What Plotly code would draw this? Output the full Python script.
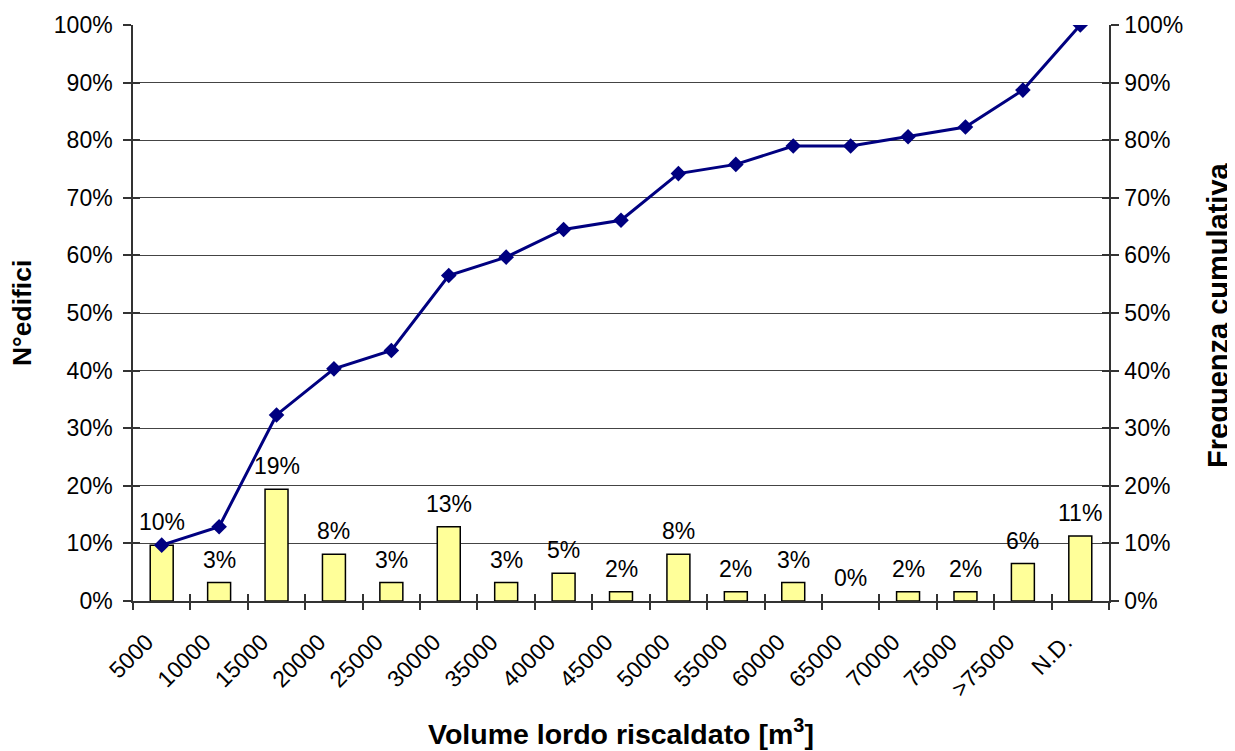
import plotly.graph_objects as go

categories = ["5000", "10000", "15000", "20000", "25000", "30000", "35000", "40000",
              "45000", "50000", "55000", "60000", "65000", "70000", "75000", ">75000", "N.D."]
share_pct = [9.7, 3.2, 19.4, 8.1, 3.2, 12.9, 3.2, 4.8, 1.6, 8.1, 1.6, 3.2, 0.0, 1.6, 1.6, 6.5, 11.3]
cumulative_pct = [9.7, 12.9, 32.3, 40.3, 43.5, 56.5, 59.7, 64.5, 66.1, 74.2, 75.8, 79.0, 79.0,
                  80.6, 82.3, 88.7, 100.0]
bar_labels = ["10%", "3%", "19%", "8%", "3%", "13%", "3%", "5%", "2%", "8%", "2%", "3%", "0%",
              "2%", "2%", "6%", "11%"]
y_ticks = [0, 0.1, 0.2, 0.3, 0.4, 0.5, 0.6, 0.7, 0.8, 0.9, 1.0]

share = [v / 100 for v in share_pct]
cumul = [v / 100 for v in cumulative_pct]

FONT = "Liberation Sans, Arial, sans-serif"
TXT = 23
AX = "#333"
N = len(categories)
RANGE = [-0.5, N - 0.5]
LABEL_SHIFT = 0.26  # tick labels sit slightly left of the category centre

fig = go.Figure()
fig.add_trace(go.Bar(
    x=categories, y=share,
    marker=dict(color="#FFFF99",
                line=dict(color="black", width=[1.5 if v > 0 else 0 for v in share])),
    width=0.4, xaxis="x", yaxis="y", showlegend=False, hoverinfo="skip"))
fig.add_trace(go.Scatter(
    x=categories, y=cumul, mode="lines+markers", xaxis="x", yaxis="y2",
    line=dict(color="#000080", width=3),
    marker=dict(symbol="diamond", size=12, color="#000080"), showlegend=False))

# invisible traces to activate the overlay axes
fig.add_trace(go.Scatter(x=categories, y=cumul, xaxis="x2", yaxis="y3", mode="none",
                         showlegend=False, hoverinfo="skip"))
fig.add_trace(go.Scatter(x=categories, y=cumul, xaxis="x2", yaxis="y4", mode="none",
                         showlegend=False, hoverinfo="skip"))
fig.add_trace(go.Scatter(x=categories, y=cumul, xaxis="x3", yaxis="y3", mode="none",
                         showlegend=False, hoverinfo="skip"))

for i, (v, t) in enumerate(zip(share, bar_labels)):
    fig.add_annotation(x=i, y=v, xref="x", yref="y", text=t, showarrow=False,
                       yanchor="bottom", yshift=8, font=dict(family=FONT, size=TXT, color="black"))

common_y = dict(range=[0, 1], tickvals=y_ticks, tickformat=".0%", showline=True,
                linecolor=AX, linewidth=1.5, tickcolor=AX, ticklen=8, tickwidth=1.5,
                tickfont=dict(family=FONT, size=TXT, color="black"), zeroline=False,
                automargin=False)
inner_y = dict(range=[0, 1], tickvals=y_ticks, overlaying="y", ticks="inside", ticklen=7,
               tickwidth=1.5, tickcolor=AX, showticklabels=False, showgrid=False,
               showline=False, zeroline=False, automargin=False)

fig.update_layout(
    width=1227, height=743, plot_bgcolor="white", paper_bgcolor="white",
    margin=dict(l=125, r=126, t=17, b=150, autoexpand=False),
    bargap=0.6,
    xaxis=dict(type="category", categoryorder="array", categoryarray=categories,
               showline=True, linecolor=AX, linewidth=1.5, ticks="outside", ticklen=7,
               tickwidth=1.5, tickcolor=AX, tickson="boundaries", showticklabels=False,
               showgrid=False, range=RANGE, automargin=False),
    xaxis2=dict(type="category", categoryorder="array", categoryarray=categories,
                overlaying="x", side="bottom", ticks="inside", ticklen=7, tickwidth=1.5,
                tickcolor=AX, tickson="boundaries", showticklabels=False, showgrid=False,
                showline=False, range=RANGE, automargin=False),
    xaxis3=dict(type="category", categoryorder="array", categoryarray=categories,
                overlaying="x", side="bottom", ticks="", tickangle=-45,
                tickfont=dict(family=FONT, size=TXT, color="black"), ticklabelstandoff=22,
                showgrid=False, showline=False, automargin=False,
                range=[RANGE[0] + LABEL_SHIFT, RANGE[1] + LABEL_SHIFT]),
    yaxis=dict(**common_y, ticks="outside", showgrid=True, gridcolor="#444", gridwidth=1,
               ticklabelstandoff=6),
    yaxis2=dict(**common_y, ticks="outside", overlaying="y", side="right", showgrid=False,
                ticklabelstandoff=1),
    yaxis3=dict(**inner_y, side="left"),
    yaxis4=dict(**inner_y, side="right"),
)

fig.add_annotation(text="<b>N°edifici</b>", xref="paper", yref="paper", x=-0.1137, y=0.5,
                   xanchor="center", yanchor="middle", textangle=-90, showarrow=False,
                   font=dict(family=FONT, size=26.5, color="black"))
fig.add_annotation(text="<b>Frequenza cumulativa</b>", xref="paper", yref="paper", x=1.1117,
                   y=0.495, xanchor="center", yanchor="middle", textangle=-90, showarrow=False,
                   font=dict(family=FONT, size=29, color="black"))
fig.add_annotation(text="<b>Volume lordo riscaldato [m<sup>3</sup>]</b>", xref="paper",
                   yref="paper", x=0.5, y=-0.228, xanchor="center", yanchor="middle",
                   showarrow=False, font=dict(family=FONT, size=28.5, color="black"))

fig.write_html("out.html")
